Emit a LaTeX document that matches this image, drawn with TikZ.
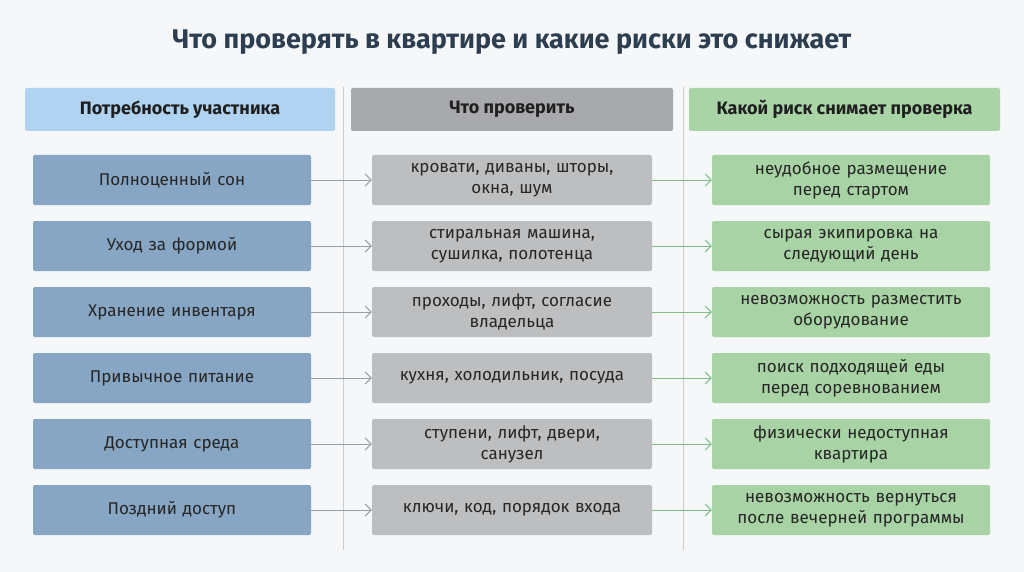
\documentclass[tikz,border=0pt]{standalone}
\usepackage{fontspec}
\setmainfont{Fira Sans}
\usetikzlibrary{arrows.meta}
\definecolor{bg}{HTML}{F5F7F9}
\definecolor{ttl}{HTML}{2C3E50}
\definecolor{hA}{HTML}{AFD3F0}
\definecolor{hB}{HTML}{A7A9AC}
\definecolor{hC}{HTML}{A9D4A6}
\definecolor{cA}{HTML}{86A6C3}
\definecolor{cB}{HTML}{BDBEC0}
\definecolor{cC}{HTML}{A8D3A4}
\definecolor{arG}{HTML}{9A9EA3}
\definecolor{arC}{HTML}{7FBF86}
\tikzset{x=1pt,y=-1pt,
 hd/.style={rounded corners=2pt,minimum height=43pt,text=black!88,font=\fontsize{18}{21}\selectfont\bfseries,inner sep=0pt},
 bx/.style={rounded corners=2pt,minimum height=50pt,text width=270pt,align=center,text=black!85,font=\fontsize{17}{21}\selectfont,inner sep=0pt},
 ca/.style={bx,fill=cA,minimum width=278pt},
 cb/.style={bx,fill=cB,minimum width=280pt},
 cc/.style={bx,fill=cC,minimum width=278pt},
 ar/.style={-{Straight Barb[length=6pt,width=12pt]},line width=1pt}}
\begin{document}
\begin{tikzpicture}
\fill[bg] (0,0) rectangle (1024,572);
\useasboundingbox (0,0) rectangle (1024,572);
\node[text=ttl,font=\fontsize{27}{32}\selectfont\bfseries] (t) at (512,42) {Что проверять в квартире и какие риски это снижает};
\draw[black!20,line width=1pt] (343,87) coordinate (s1) -- (343,550) coordinate (s2);
\draw[black!20,line width=1pt] (683,87) coordinate (s3) -- (683,550) coordinate (s4);
\node[hd,fill=hA,minimum width=310pt] (h1) at (180,109.5) {Потребность участника};
\node[hd,fill=hB,minimum width=322pt] (h2) at (512,109.5) {Что проверить};
\node[hd,fill=hC,minimum width=311pt] (h3) at (844.5,109.5) {Какой риск снимает проверка};
\foreach \i/\a/\b/\c in {
0/{Полноценный сон}/{кровати, диваны, шторы,\\окна, шум}/{неудобное размещение\\перед стартом},
1/{Уход за формой}/{стиральная машина,\\сушилка, полотенца}/{сырая экипировка на\\следующий день},
2/{Хранение инвентаря}/{проходы, лифт, согласие\\владельца}/{невозможность разместить\\оборудование},
3/{Привычное питание}/{кухня, холодильник, посуда}/{поиск подходящей еды\\перед соревнованием},
4/{Доступная среда}/{ступени, лифт, двери,\\санузел}/{физически недоступная\\квартира},
5/{Поздний доступ}/{ключи, код, порядок входа}/{невозможность вернуться\\после вечерней программы}}{
 \node[ca] (a\i) at (172,180+66*\i) {\a};
 \node[cb] (b\i) at (512,180+66*\i) {\b};
 \node[cc] (c\i) at (851,180+66*\i) {\c};
 \draw[ar,arG] (a\i.east) -- (b\i.west);
 \draw[ar,arC] (b\i.east) -- (c\i.west);
}
\end{tikzpicture}
\end{document}
